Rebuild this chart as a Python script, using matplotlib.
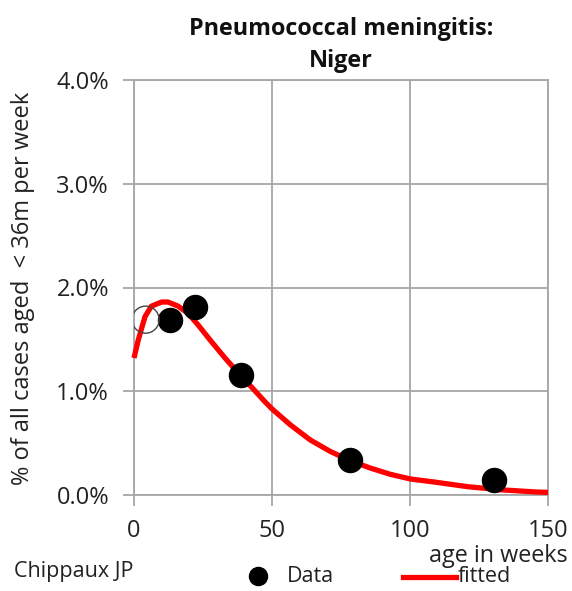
import matplotlib
matplotlib.use("Agg")
import matplotlib.pyplot as plt
from matplotlib.ticker import PercentFormatter, MultipleLocator
from matplotlib.lines import Line2D

plt.rcParams['font.family'] = ['Open Sans', 'DejaVu Sans']

# Data (age in weeks, % of cases per week)
data_x = [13.2, 22.0, 38.8, 78.4, 130.4]
data_y = [1.69, 1.81, 1.16, 0.335, 0.145]
open_x = [4.2]
open_y = [1.69]

# Fitted curve
fit_x = [0, 1.5, 4, 6.3, 10, 12.3, 16, 19.6, 23.2, 28, 33, 38.3, 42.6, 47.4,
         50, 56.7, 63.9, 71.1, 78.4, 85.6, 92.8, 100, 108.8, 120.9, 133, 145, 150]
fit_y = [1.32, 1.49, 1.72, 1.82, 1.86, 1.86, 1.82, 1.75, 1.64, 1.48, 1.32, 1.16,
         1.04, 0.90, 0.83, 0.675, 0.53, 0.42, 0.33, 0.26, 0.20, 0.155, 0.125,
         0.08, 0.05, 0.03, 0.025]

W, H = 572, 591
fig = plt.figure(figsize=(W / 100, H / 100), dpi=100)
ax = fig.add_axes([134 / W, 1 - 495 / H, (548 - 134) / W, (495 - 80) / H])

grid_c = '#a6a6a6'
ax.set_xlim(0, 150)
ax.set_ylim(0, 4.0)
ax.xaxis.set_major_locator(MultipleLocator(50))
ax.yaxis.set_major_locator(MultipleLocator(1.0))
ax.yaxis.set_major_formatter(PercentFormatter(xmax=100, decimals=1))
ax.grid(True, color=grid_c, linewidth=1.3)
ax.set_axisbelow(True)
for s in ax.spines.values():
    s.set_color(grid_c)
    s.set_linewidth(1.3)
ax.tick_params(axis='both', direction='out', length=8, width=1.3, color=grid_c,
               labelsize=17, labelcolor='#222222')
ax.tick_params(axis='x', pad=9)
ax.tick_params(axis='y', pad=10)

ax.plot(fit_x, fit_y, color='#ff0000', linewidth=3.8, solid_capstyle='butt',
        solid_joinstyle='round', zorder=3, clip_on=False)
ax.scatter(data_x, data_y, s=300, color='black', zorder=4, clip_on=False)
ax.scatter(open_x, open_y, s=380, facecolor='none', edgecolor='#444444',
           linewidth=1.0, zorder=4)

fig.text(341 / W, 1 - 45 / H, 'Pneumococcal meningitis:\nNiger', ha='center',
         va='center', fontsize=16.8, fontweight='bold', linespacing=1.45,
         color='#111111')
fig.text(23 / W, 1 - 288 / H, '% of all cases aged  < 36m per week',
         rotation=90, ha='center', va='center', fontsize=17, color='#222222')
fig.text(568 / W, 1 - 556 / H, 'age in weeks', ha='right', va='center',
         fontsize=16.8, color='#222222')
fig.text(14 / W, 1 - 572 / H, 'Chippaux JP', ha='left', va='center',
         fontsize=15.5, color='#222222')

# Legend
fig.add_artist(Line2D([258 / W], [1 - 576 / H], marker='o', markersize=13,
                      color='black', linestyle='none', transform=fig.transFigure))
fig.text(287 / W, 1 - 577 / H, 'Data', ha='left', va='center', fontsize=15.5,
         color='#222222')
fig.add_artist(Line2D([403 / W, 456 / W], [1 - 577 / H, 1 - 577 / H],
                      color='#ff0000', linewidth=3.8, transform=fig.transFigure))
fig.text(458 / W, 1 - 577 / H, 'fitted', ha='left', va='center', fontsize=15.5,
         color='#222222')

fig.savefig('out.png', dpi=100)
